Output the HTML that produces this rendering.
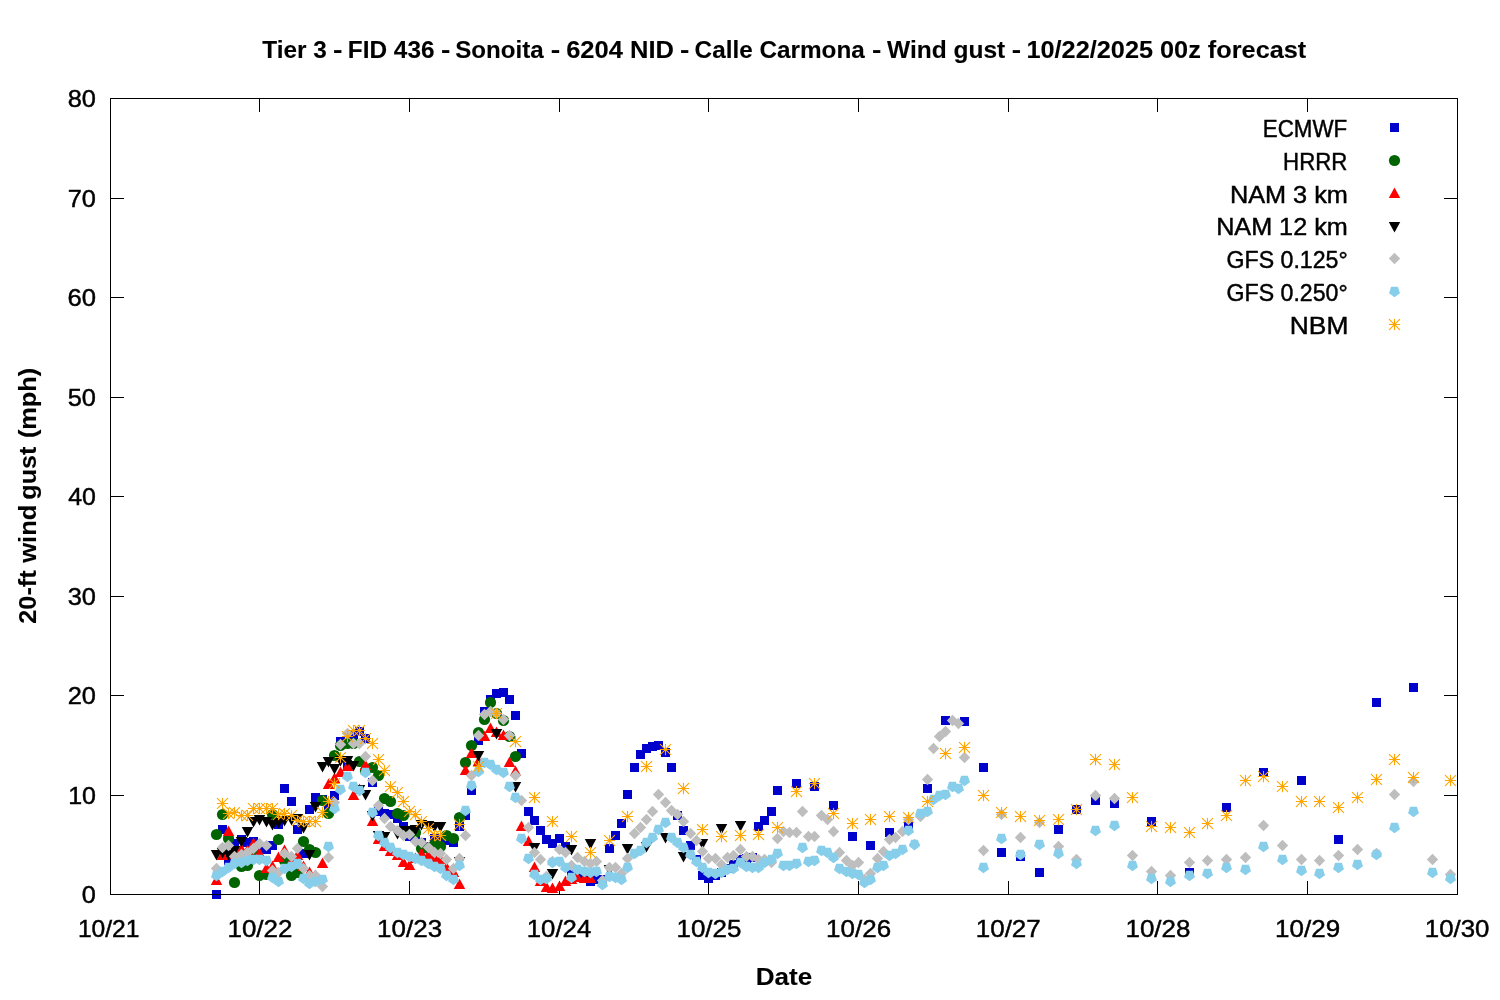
<!DOCTYPE html>
<html lang="en"><head><meta charset="utf-8"><title>Wind gust forecast</title>
<style>
html,body{margin:0;padding:0;background:#fff}
body{width:1500px;height:1000px;overflow:hidden}
svg{display:block}
text{font-family:"Liberation Sans",sans-serif;font-size:24px;fill:#000;stroke:#000;stroke-width:.45px}
.b{font-weight:bold;stroke-width:.1px}
</style></head><body>
<svg width="1500" height="1000" viewBox="0 0 1500 1000">
<rect width="1500" height="1000" fill="#fff"/>
<text class="b" x="755.67" y="985.3" textLength="56.48" lengthAdjust="spacingAndGlyphs">Date</text>
<text x="81.81" y="903.3" textLength="14.1" lengthAdjust="spacingAndGlyphs">0</text>
<text x="68.18" y="804.3" textLength="27.82" lengthAdjust="spacingAndGlyphs">10</text>
<text x="67.74" y="704.3" textLength="28.27" lengthAdjust="spacingAndGlyphs">20</text>
<text x="67.74" y="605.3" textLength="28.27" lengthAdjust="spacingAndGlyphs">30</text>
<text x="68.28" y="505.3" textLength="27.71" lengthAdjust="spacingAndGlyphs">40</text>
<text x="67.74" y="406.3" textLength="28.27" lengthAdjust="spacingAndGlyphs">50</text>
<text x="67.46" y="306.3" textLength="28.56" lengthAdjust="spacingAndGlyphs">60</text>
<text x="67.74" y="207.3" textLength="28.27" lengthAdjust="spacingAndGlyphs">70</text>
<text x="67.74" y="107.3" textLength="28.27" lengthAdjust="spacingAndGlyphs">80</text>
<text x="77.91" y="936.8" textLength="61.58" lengthAdjust="spacingAndGlyphs">10/21</text>
<text x="227.47" y="936.8" textLength="64.94" lengthAdjust="spacingAndGlyphs">10/22</text>
<text x="377.14" y="936.8" textLength="64.94" lengthAdjust="spacingAndGlyphs">10/23</text>
<text x="526.82" y="936.8" textLength="64.38" lengthAdjust="spacingAndGlyphs">10/24</text>
<text x="676.47" y="936.8" textLength="64.94" lengthAdjust="spacingAndGlyphs">10/25</text>
<text x="826.14" y="936.8" textLength="64.94" lengthAdjust="spacingAndGlyphs">10/26</text>
<text x="975.81" y="936.8" textLength="64.94" lengthAdjust="spacingAndGlyphs">10/27</text>
<text x="1125.47" y="936.8" textLength="64.94" lengthAdjust="spacingAndGlyphs">10/28</text>
<text x="1275.14" y="936.8" textLength="64.94" lengthAdjust="spacingAndGlyphs">10/29</text>
<text x="1424.82" y="936.8" textLength="64.66" lengthAdjust="spacingAndGlyphs">10/30</text>
<text x="1262.77" y="136.9" textLength="84.37" lengthAdjust="spacingAndGlyphs">ECMWF</text>
<text x="1283.08" y="169.72" textLength="64.22" lengthAdjust="spacingAndGlyphs">HRRR</text>
<text x="1229.91" y="202.54" textLength="117.99" lengthAdjust="spacingAndGlyphs">NAM 3 km</text>
<text x="1216.16" y="235.36" textLength="131.56" lengthAdjust="spacingAndGlyphs">NAM 12 km</text>
<text x="1226.54" y="268.18" textLength="121.13" lengthAdjust="spacingAndGlyphs">GFS 0.125°</text>
<text x="1226.54" y="301" textLength="121.13" lengthAdjust="spacingAndGlyphs">GFS 0.250°</text>
<text x="1289.83" y="333.82" textLength="58.49" lengthAdjust="spacingAndGlyphs">NBM</text>
<text class="b" y="58.3"><tspan x="262.35" textLength="64.53" lengthAdjust="spacingAndGlyphs">Tier 3</tspan> <tspan x="333.11" textLength="9.48" lengthAdjust="spacingAndGlyphs">-</tspan> <tspan x="347.88" textLength="86.61" lengthAdjust="spacingAndGlyphs">FID 436</tspan> <tspan x="441.12" textLength="9.35" lengthAdjust="spacingAndGlyphs">-</tspan> <tspan x="455.25" textLength="88.5" lengthAdjust="spacingAndGlyphs">Sonoita</tspan> <tspan x="550.71" textLength="9.48" lengthAdjust="spacingAndGlyphs">-</tspan> <tspan x="566.2" textLength="107.74" lengthAdjust="spacingAndGlyphs">6204 NID</tspan> <tspan x="680.12" textLength="9.35" lengthAdjust="spacingAndGlyphs">-</tspan> <tspan x="694.59" textLength="170.22" lengthAdjust="spacingAndGlyphs">Calle Carmona</tspan> <tspan x="872.12" textLength="9.35" lengthAdjust="spacingAndGlyphs">-</tspan> <tspan x="887" textLength="118.27" lengthAdjust="spacingAndGlyphs">Wind gust</tspan> <tspan x="1011.72" textLength="9.35" lengthAdjust="spacingAndGlyphs">-</tspan> <tspan x="1026.42" textLength="279.88" lengthAdjust="spacingAndGlyphs">10/22/2025 00z forecast</tspan></text>
<text class="b" transform="translate(36.3 623) rotate(-90)"><tspan x="-0.79" textLength="53.47" lengthAdjust="spacingAndGlyphs">20-ft</tspan> <tspan x="60.2" textLength="58.3" lengthAdjust="spacingAndGlyphs">wind</tspan> <tspan x="123.35" textLength="53.03" lengthAdjust="spacingAndGlyphs">gust</tspan> <tspan x="184.95" textLength="70.17" lengthAdjust="spacingAndGlyphs">(mph)</tspan></text>
<path d="M259.5 894.5v-13.5M259.5 98.5v13.5M409.5 894.5v-13.5M409.5 98.5v13.5M559.5 894.5v-13.5M559.5 98.5v13.5M708.5 894.5v-13.5M708.5 98.5v13.5M858.5 894.5v-13.5M858.5 98.5v13.5M1008.5 894.5v-13.5M1008.5 98.5v13.5M1157.5 894.5v-13.5M1157.5 98.5v13.5M1307.5 894.5v-13.5M1307.5 98.5v13.5M110.5 795.5h13.5M1457.5 795.5h-13.5M110.5 695.5h13.5M1457.5 695.5h-13.5M110.5 596.5h13.5M1457.5 596.5h-13.5M110.5 496.5h13.5M1457.5 496.5h-13.5M110.5 397.5h13.5M1457.5 397.5h-13.5M110.5 297.5h13.5M1457.5 297.5h-13.5M110.5 198.5h13.5M1457.5 198.5h-13.5" fill="none" stroke="#000" stroke-width="1"/>
<g fill="#0000cd">
<rect x="1390" y="123" width="9" height="9"/>
<rect x="212" y="890" width="9" height="9"/>
<rect x="218" y="825" width="9" height="9"/>
<rect x="224" y="856" width="9" height="9"/>
<rect x="230" y="839" width="9" height="9"/>
<rect x="237" y="835" width="9" height="9"/>
<rect x="243" y="838" width="9" height="9"/>
<rect x="249" y="837" width="9" height="9"/>
<rect x="255" y="845" width="9" height="9"/>
<rect x="262" y="845" width="9" height="9"/>
<rect x="268" y="841" width="9" height="9"/>
<rect x="274" y="820" width="9" height="9"/>
<rect x="280" y="784" width="9" height="9"/>
<rect x="287" y="797" width="9" height="9"/>
<rect x="293" y="825" width="9" height="9"/>
<rect x="299" y="849" width="9" height="9"/>
<rect x="305" y="805" width="9" height="9"/>
<rect x="311" y="793" width="9" height="9"/>
<rect x="318" y="795" width="9" height="9"/>
<rect x="324" y="802" width="9" height="9"/>
<rect x="330" y="791" width="9" height="9"/>
<rect x="336" y="737" width="9" height="9"/>
<rect x="343" y="760" width="9" height="9"/>
<rect x="349" y="730" width="9" height="9"/>
<rect x="355" y="727" width="9" height="9"/>
<rect x="361" y="734" width="9" height="9"/>
<rect x="368" y="778" width="9" height="9"/>
<rect x="374" y="807" width="9" height="9"/>
<rect x="380" y="809" width="9" height="9"/>
<rect x="386" y="810" width="9" height="9"/>
<rect x="393" y="814" width="9" height="9"/>
<rect x="399" y="822" width="9" height="9"/>
<rect x="405" y="832" width="9" height="9"/>
<rect x="411" y="832" width="9" height="9"/>
<rect x="417" y="838" width="9" height="9"/>
<rect x="424" y="842" width="9" height="9"/>
<rect x="430" y="834" width="9" height="9"/>
<rect x="436" y="834" width="9" height="9"/>
<rect x="442" y="836" width="9" height="9"/>
<rect x="449" y="838" width="9" height="9"/>
<rect x="455" y="822" width="9" height="9"/>
<rect x="461" y="811" width="9" height="9"/>
<rect x="467" y="786" width="9" height="9"/>
<rect x="474" y="736" width="9" height="9"/>
<rect x="480" y="707" width="9" height="9"/>
<rect x="486" y="695" width="9" height="9"/>
<rect x="492" y="689" width="9" height="9"/>
<rect x="499" y="688" width="9" height="9"/>
<rect x="505" y="695" width="9" height="9"/>
<rect x="511" y="711" width="9" height="9"/>
<rect x="517" y="749" width="9" height="9"/>
<rect x="524" y="807" width="9" height="9"/>
<rect x="530" y="816" width="9" height="9"/>
<rect x="536" y="826" width="9" height="9"/>
<rect x="542" y="835" width="9" height="9"/>
<rect x="548" y="839" width="9" height="9"/>
<rect x="555" y="834" width="9" height="9"/>
<rect x="561" y="842" width="9" height="9"/>
<rect x="567" y="870" width="9" height="9"/>
<rect x="573" y="873" width="9" height="9"/>
<rect x="580" y="874" width="9" height="9"/>
<rect x="586" y="877" width="9" height="9"/>
<rect x="592" y="875" width="9" height="9"/>
<rect x="598" y="875" width="9" height="9"/>
<rect x="605" y="844" width="9" height="9"/>
<rect x="611" y="831" width="9" height="9"/>
<rect x="617" y="819" width="9" height="9"/>
<rect x="623" y="790" width="9" height="9"/>
<rect x="630" y="763" width="9" height="9"/>
<rect x="636" y="750" width="9" height="9"/>
<rect x="642" y="744" width="9" height="9"/>
<rect x="648" y="742" width="9" height="9"/>
<rect x="654" y="741" width="9" height="9"/>
<rect x="661" y="748" width="9" height="9"/>
<rect x="667" y="763" width="9" height="9"/>
<rect x="673" y="811" width="9" height="9"/>
<rect x="679" y="826" width="9" height="9"/>
<rect x="686" y="841" width="9" height="9"/>
<rect x="692" y="855" width="9" height="9"/>
<rect x="698" y="871" width="9" height="9"/>
<rect x="704" y="874" width="9" height="9"/>
<rect x="711" y="871" width="9" height="9"/>
<rect x="717" y="868" width="9" height="9"/>
<rect x="723" y="864" width="9" height="9"/>
<rect x="729" y="860" width="9" height="9"/>
<rect x="736" y="855" width="9" height="9"/>
<rect x="742" y="854" width="9" height="9"/>
<rect x="748" y="853" width="9" height="9"/>
<rect x="754" y="822" width="9" height="9"/>
<rect x="760" y="816" width="9" height="9"/>
<rect x="767" y="807" width="9" height="9"/>
<rect x="773" y="786" width="9" height="9"/>
<rect x="792" y="779" width="9" height="9"/>
<rect x="810" y="782" width="9" height="9"/>
<rect x="829" y="801" width="9" height="9"/>
<rect x="848" y="832" width="9" height="9"/>
<rect x="866" y="841" width="9" height="9"/>
<rect x="885" y="828" width="9" height="9"/>
<rect x="904" y="822" width="9" height="9"/>
<rect x="923" y="784" width="9" height="9"/>
<rect x="941" y="716" width="9" height="9"/>
<rect x="960" y="717" width="9" height="9"/>
<rect x="979" y="763" width="9" height="9"/>
<rect x="997" y="848" width="9" height="9"/>
<rect x="1016" y="852" width="9" height="9"/>
<rect x="1035" y="868" width="9" height="9"/>
<rect x="1054" y="825" width="9" height="9"/>
<rect x="1072" y="805" width="9" height="9"/>
<rect x="1091" y="796" width="9" height="9"/>
<rect x="1110" y="799" width="9" height="9"/>
<rect x="1147" y="817" width="9" height="9"/>
<rect x="1185" y="868" width="9" height="9"/>
<rect x="1222" y="803" width="9" height="9"/>
<rect x="1259" y="768" width="9" height="9"/>
<rect x="1297" y="776" width="9" height="9"/>
<rect x="1334" y="835" width="9" height="9"/>
<rect x="1372" y="698" width="9" height="9"/>
<rect x="1409" y="683" width="9" height="9"/>
</g>
<g fill="#006400">
<circle cx="1394.5" cy="160.5" r="5.6"/>
<circle cx="216.5" cy="834.5" r="5.6"/>
<circle cx="222.5" cy="814.5" r="5.6"/>
<circle cx="228.5" cy="838.5" r="5.6"/>
<circle cx="234.5" cy="882.5" r="5.6"/>
<circle cx="241.5" cy="866.5" r="5.6"/>
<circle cx="247.5" cy="865.5" r="5.6"/>
<circle cx="253.5" cy="852.5" r="5.6"/>
<circle cx="259.5" cy="875.5" r="5.6"/>
<circle cx="266.5" cy="874.5" r="5.6"/>
<circle cx="272.5" cy="814.5" r="5.6"/>
<circle cx="278.5" cy="839.5" r="5.6"/>
<circle cx="284.5" cy="860.5" r="5.6"/>
<circle cx="291.5" cy="875.5" r="5.6"/>
<circle cx="297.5" cy="872.5" r="5.6"/>
<circle cx="303.5" cy="841.5" r="5.6"/>
<circle cx="309.5" cy="849.5" r="5.6"/>
<circle cx="315.5" cy="852.5" r="5.6"/>
<circle cx="322.5" cy="800.5" r="5.6"/>
<circle cx="328.5" cy="813.5" r="5.6"/>
<circle cx="334.5" cy="755.5" r="5.6"/>
<circle cx="340.5" cy="745.5" r="5.6"/>
<circle cx="347.5" cy="743.5" r="5.6"/>
<circle cx="353.5" cy="743.5" r="5.6"/>
<circle cx="359.5" cy="761.5" r="5.6"/>
<circle cx="365.5" cy="770.5" r="5.6"/>
<circle cx="372.5" cy="767.5" r="5.6"/>
<circle cx="378.5" cy="775.5" r="5.6"/>
<circle cx="384.5" cy="798.5" r="5.6"/>
<circle cx="390.5" cy="801.5" r="5.6"/>
<circle cx="397.5" cy="813.5" r="5.6"/>
<circle cx="403.5" cy="815.5" r="5.6"/>
<circle cx="409.5" cy="832.5" r="5.6"/>
<circle cx="415.5" cy="832.5" r="5.6"/>
<circle cx="421.5" cy="848.5" r="5.6"/>
<circle cx="428.5" cy="848.5" r="5.6"/>
<circle cx="434.5" cy="844.5" r="5.6"/>
<circle cx="440.5" cy="846.5" r="5.6"/>
<circle cx="446.5" cy="835.5" r="5.6"/>
<circle cx="453.5" cy="838.5" r="5.6"/>
<circle cx="459.5" cy="817.5" r="5.6"/>
<circle cx="465.5" cy="762.5" r="5.6"/>
<circle cx="471.5" cy="745.5" r="5.6"/>
<circle cx="478.5" cy="732.5" r="5.6"/>
<circle cx="484.5" cy="719.5" r="5.6"/>
<circle cx="490.5" cy="702.5" r="5.6"/>
<circle cx="496.5" cy="713.5" r="5.6"/>
<circle cx="503.5" cy="720.5" r="5.6"/>
<circle cx="509.5" cy="736.5" r="5.6"/>
<circle cx="515.5" cy="756.5" r="5.6"/>
</g>
<g fill="#ff0000">
<path d="M1388.75 198L1394.5 187.4L1400.25 198z"/>
<path d="M210.75 885L216.5 874.4L222.25 885z"/>
<path d="M216.75 860L222.5 849.4L228.25 860z"/>
<path d="M222.75 836L228.5 825.4L234.25 836z"/>
<path d="M228.75 859L234.5 848.4L240.25 859z"/>
<path d="M235.75 854L241.5 843.4L247.25 854z"/>
<path d="M241.75 855L247.5 844.4L253.25 855z"/>
<path d="M247.75 848L253.5 837.4L259.25 848z"/>
<path d="M253.75 858L259.5 847.4L265.25 858z"/>
<path d="M260.75 873L266.5 862.4L272.25 873z"/>
<path d="M266.75 871L272.5 860.4L278.25 871z"/>
<path d="M272.75 862L278.5 851.4L284.25 862z"/>
<path d="M278.75 855L284.5 844.4L290.25 855z"/>
<path d="M285.75 866L291.5 855.4L297.25 866z"/>
<path d="M291.75 860L297.5 849.4L303.25 860z"/>
<path d="M297.75 871L303.5 860.4L309.25 871z"/>
<path d="M303.75 877L309.5 866.4L315.25 877z"/>
<path d="M309.75 880L315.5 869.4L321.25 880z"/>
<path d="M316.75 868L322.5 857.4L328.25 868z"/>
<path d="M322.75 789L328.5 778.4L334.25 789z"/>
<path d="M328.75 783L334.5 772.4L340.25 783z"/>
<path d="M334.75 777L340.5 766.4L346.25 777z"/>
<path d="M341.75 771L347.5 760.4L353.25 771z"/>
<path d="M347.75 800L353.5 789.4L359.25 800z"/>
<path d="M353.75 794L359.5 783.4L365.25 794z"/>
<path d="M359.75 770L365.5 759.4L371.25 770z"/>
<path d="M366.75 826L372.5 815.4L378.25 826z"/>
<path d="M372.75 844L378.5 833.4L384.25 844z"/>
<path d="M378.75 851L384.5 840.4L390.25 851z"/>
<path d="M384.75 856L390.5 845.4L396.25 856z"/>
<path d="M391.75 860L397.5 849.4L403.25 860z"/>
<path d="M397.75 867L403.5 856.4L409.25 867z"/>
<path d="M403.75 870L409.5 859.4L415.25 870z"/>
<path d="M409.75 863L415.5 852.4L421.25 863z"/>
<path d="M415.75 858L421.5 847.4L427.25 858z"/>
<path d="M422.75 860L428.5 849.4L434.25 860z"/>
<path d="M428.75 862L434.5 851.4L440.25 862z"/>
<path d="M434.75 864L440.5 853.4L446.25 864z"/>
<path d="M440.75 872L446.5 861.4L452.25 872z"/>
<path d="M447.75 877L453.5 866.4L459.25 877z"/>
<path d="M453.75 889L459.5 878.4L465.25 889z"/>
<path d="M459.75 775L465.5 764.4L471.25 775z"/>
<path d="M465.75 758L471.5 747.4L477.25 758z"/>
<path d="M472.75 766L478.5 755.4L484.25 766z"/>
<path d="M478.75 741L484.5 730.4L490.25 741z"/>
<path d="M484.75 733L490.5 722.4L496.25 733z"/>
<path d="M490.75 737L496.5 726.4L502.25 737z"/>
<path d="M497.75 740L503.5 729.4L509.25 740z"/>
<path d="M503.75 767L509.5 756.4L515.25 767z"/>
<path d="M509.75 776L515.5 765.4L521.25 776z"/>
<path d="M515.75 831L521.5 820.4L527.25 831z"/>
<path d="M522.75 846L528.5 835.4L534.25 846z"/>
<path d="M528.75 872L534.5 861.4L540.25 872z"/>
<path d="M534.75 886L540.5 875.4L546.25 886z"/>
<path d="M540.75 892L546.5 881.4L552.25 892z"/>
<path d="M546.75 893L552.5 882.4L558.25 893z"/>
<path d="M553.75 891L559.5 880.4L565.25 891z"/>
<path d="M559.75 886L565.5 875.4L571.25 886z"/>
<path d="M565.75 884L571.5 873.4L577.25 884z"/>
<path d="M571.75 882L577.5 871.4L583.25 882z"/>
<path d="M578.75 883L584.5 872.4L590.25 883z"/>
<path d="M584.75 883L590.5 872.4L596.25 883z"/>
</g>
<g fill="#000000">
<path d="M1388.75 222L1394.5 232.6L1400.25 222z"/>
<path d="M210.75 850L216.5 860.6L222.25 850z"/>
<path d="M216.75 848L222.5 858.6L228.25 848z"/>
<path d="M222.75 850L228.5 860.6L234.25 850z"/>
<path d="M228.75 846L234.5 856.6L240.25 846z"/>
<path d="M235.75 837L241.5 847.6L247.25 837z"/>
<path d="M241.75 827L247.5 837.6L253.25 827z"/>
<path d="M247.75 817L253.5 827.6L259.25 817z"/>
<path d="M253.75 815L259.5 825.6L265.25 815z"/>
<path d="M260.75 817L266.5 827.6L272.25 817z"/>
<path d="M266.75 820L272.5 830.6L278.25 820z"/>
<path d="M272.75 818L278.5 828.6L284.25 818z"/>
<path d="M278.75 816L284.5 826.6L290.25 816z"/>
<path d="M285.75 815L291.5 825.6L297.25 815z"/>
<path d="M291.75 814L297.5 824.6L303.25 814z"/>
<path d="M297.75 823L303.5 833.6L309.25 823z"/>
<path d="M303.75 850L309.5 860.6L315.25 850z"/>
<path d="M309.75 802L315.5 812.6L321.25 802z"/>
<path d="M316.75 762L322.5 772.6L328.25 762z"/>
<path d="M322.75 757L328.5 767.6L334.25 757z"/>
<path d="M328.75 764L334.5 774.6L340.25 764z"/>
<path d="M334.75 756L340.5 766.6L346.25 756z"/>
<path d="M341.75 756L347.5 766.6L353.25 756z"/>
<path d="M347.75 761L353.5 771.6L359.25 761z"/>
<path d="M353.75 785L359.5 795.6L365.25 785z"/>
<path d="M359.75 790L365.5 800.6L371.25 790z"/>
<path d="M366.75 811L372.5 821.6L378.25 811z"/>
<path d="M372.75 831L378.5 841.6L384.25 831z"/>
<path d="M378.75 832L384.5 842.6L390.25 832z"/>
<path d="M391.75 829L397.5 839.6L403.25 829z"/>
<path d="M397.75 826L403.5 836.6L409.25 826z"/>
<path d="M403.75 826L409.5 836.6L415.25 826z"/>
<path d="M409.75 825L415.5 835.6L421.25 825z"/>
<path d="M415.75 820L421.5 830.6L427.25 820z"/>
<path d="M422.75 821L428.5 831.6L434.25 821z"/>
<path d="M428.75 822L434.5 832.6L440.25 822z"/>
<path d="M434.75 822L440.5 832.6L446.25 822z"/>
<path d="M453.75 857L459.5 867.6L465.25 857z"/>
<path d="M472.75 751L478.5 761.6L484.25 751z"/>
<path d="M490.75 729L496.5 739.6L502.25 729z"/>
<path d="M509.75 782L515.5 792.6L521.25 782z"/>
<path d="M528.75 843L534.5 853.6L540.25 843z"/>
<path d="M546.75 869L552.5 879.6L558.25 869z"/>
<path d="M565.75 845L571.5 855.6L577.25 845z"/>
<path d="M584.75 839L590.5 849.6L596.25 839z"/>
<path d="M603.75 865L609.5 875.6L615.25 865z"/>
<path d="M621.75 844L627.5 854.6L633.25 844z"/>
<path d="M640.75 842L646.5 852.6L652.25 842z"/>
<path d="M659.75 833L665.5 843.6L671.25 833z"/>
<path d="M677.75 852L683.5 862.6L689.25 852z"/>
<path d="M696.75 839L702.5 849.6L708.25 839z"/>
<path d="M715.75 824L721.5 834.6L727.25 824z"/>
<path d="M734.75 821L740.5 831.6L746.25 821z"/>
</g>
<g fill="#bebebe">
<path d="M1388.8 258.5L1394.5 252.8L1400.2 258.5L1394.5 264.2z"/>
<path d="M210.8 868.5L216.5 862.8L222.2 868.5L216.5 874.2z"/>
<path d="M216.8 847.5L222.5 841.8L228.2 847.5L222.5 853.2z"/>
<path d="M222.8 845.5L228.5 839.8L234.2 845.5L228.5 851.2z"/>
<path d="M228.8 856.5L234.5 850.8L240.2 856.5L234.5 862.2z"/>
<path d="M235.8 854.5L241.5 848.8L247.2 854.5L241.5 860.2z"/>
<path d="M241.8 852.5L247.5 846.8L253.2 852.5L247.5 858.2z"/>
<path d="M247.8 848.5L253.5 842.8L259.2 848.5L253.5 854.2z"/>
<path d="M253.8 843.5L259.5 837.8L265.2 843.5L259.5 849.2z"/>
<path d="M260.8 845.5L266.5 839.8L272.2 845.5L266.5 851.2z"/>
<path d="M266.8 870.5L272.5 864.8L278.2 870.5L272.5 876.2z"/>
<path d="M272.8 872.5L278.5 866.8L284.2 872.5L278.5 878.2z"/>
<path d="M278.8 853.5L284.5 847.8L290.2 853.5L284.5 859.2z"/>
<path d="M285.8 856.5L291.5 850.8L297.2 856.5L291.5 862.2z"/>
<path d="M291.8 848.5L297.5 842.8L303.2 848.5L297.5 854.2z"/>
<path d="M297.8 868.5L303.5 862.8L309.2 868.5L303.5 874.2z"/>
<path d="M303.8 875.5L309.5 869.8L315.2 875.5L309.5 881.2z"/>
<path d="M309.8 875.5L315.5 869.8L321.2 875.5L315.5 881.2z"/>
<path d="M316.8 886.5L322.5 880.8L328.2 886.5L322.5 892.2z"/>
<path d="M322.8 857.5L328.5 851.8L334.2 857.5L328.5 863.2z"/>
<path d="M328.8 802.5L334.5 796.8L340.2 802.5L334.5 808.2z"/>
<path d="M334.8 744.5L340.5 738.8L346.2 744.5L340.5 750.2z"/>
<path d="M341.8 733.5L347.5 727.8L353.2 733.5L347.5 739.2z"/>
<path d="M347.8 743.5L353.5 737.8L359.2 743.5L353.5 749.2z"/>
<path d="M353.8 743.5L359.5 737.8L365.2 743.5L359.5 749.2z"/>
<path d="M359.8 756.5L365.5 750.8L371.2 756.5L365.5 762.2z"/>
<path d="M366.8 780.5L372.5 774.8L378.2 780.5L372.5 786.2z"/>
<path d="M372.8 805.5L378.5 799.8L384.2 805.5L378.5 811.2z"/>
<path d="M378.8 818.5L384.5 812.8L390.2 818.5L384.5 824.2z"/>
<path d="M384.8 826.5L390.5 820.8L396.2 826.5L390.5 832.2z"/>
<path d="M391.8 830.5L397.5 824.8L403.2 830.5L397.5 836.2z"/>
<path d="M397.8 835.5L403.5 829.8L409.2 835.5L403.5 841.2z"/>
<path d="M403.8 834.5L409.5 828.8L415.2 834.5L409.5 840.2z"/>
<path d="M409.8 841.5L415.5 835.8L421.2 841.5L415.5 847.2z"/>
<path d="M415.8 842.5L421.5 836.8L427.2 842.5L421.5 848.2z"/>
<path d="M422.8 847.5L428.5 841.8L434.2 847.5L428.5 853.2z"/>
<path d="M428.8 852.5L434.5 846.8L440.2 852.5L434.5 858.2z"/>
<path d="M434.8 853.5L440.5 847.8L446.2 853.5L440.5 859.2z"/>
<path d="M440.8 859.5L446.5 853.8L452.2 859.5L446.5 865.2z"/>
<path d="M447.8 868.5L453.5 862.8L459.2 868.5L453.5 874.2z"/>
<path d="M453.8 858.5L459.5 852.8L465.2 858.5L459.5 864.2z"/>
<path d="M459.8 835.5L465.5 829.8L471.2 835.5L465.5 841.2z"/>
<path d="M465.8 775.5L471.5 769.8L477.2 775.5L471.5 781.2z"/>
<path d="M472.8 735.5L478.5 729.8L484.2 735.5L478.5 741.2z"/>
<path d="M478.8 714.5L484.5 708.8L490.2 714.5L484.5 720.2z"/>
<path d="M484.8 711.5L490.5 705.8L496.2 711.5L490.5 717.2z"/>
<path d="M490.8 713.5L496.5 707.8L502.2 713.5L496.5 719.2z"/>
<path d="M497.8 719.5L503.5 713.8L509.2 719.5L503.5 725.2z"/>
<path d="M503.8 735.5L509.5 729.8L515.2 735.5L509.5 741.2z"/>
<path d="M509.8 775.5L515.5 769.8L521.2 775.5L515.5 781.2z"/>
<path d="M515.8 800.5L521.5 794.8L527.2 800.5L521.5 806.2z"/>
<path d="M522.8 827.5L528.5 821.8L534.2 827.5L528.5 833.2z"/>
<path d="M528.8 852.5L534.5 846.8L540.2 852.5L534.5 858.2z"/>
<path d="M534.8 859.5L540.5 853.8L546.2 859.5L540.5 865.2z"/>
<path d="M540.8 876.5L546.5 870.8L552.2 876.5L546.5 882.2z"/>
<path d="M546.8 861.5L552.5 855.8L558.2 861.5L552.5 867.2z"/>
<path d="M553.8 849.5L559.5 843.8L565.2 849.5L559.5 855.2z"/>
<path d="M559.8 852.5L565.5 846.8L571.2 852.5L565.5 858.2z"/>
<path d="M565.8 865.5L571.5 859.8L577.2 865.5L571.5 871.2z"/>
<path d="M571.8 857.5L577.5 851.8L583.2 857.5L577.5 863.2z"/>
<path d="M578.8 861.5L584.5 855.8L590.2 861.5L584.5 867.2z"/>
<path d="M584.8 863.5L590.5 857.8L596.2 863.5L590.5 869.2z"/>
<path d="M590.8 861.5L596.5 855.8L602.2 861.5L596.5 867.2z"/>
<path d="M596.8 880.5L602.5 874.8L608.2 880.5L602.5 886.2z"/>
<path d="M603.8 867.5L609.5 861.8L615.2 867.5L609.5 873.2z"/>
<path d="M609.8 867.5L615.5 861.8L621.2 867.5L615.5 873.2z"/>
<path d="M615.8 873.5L621.5 867.8L627.2 873.5L621.5 879.2z"/>
<path d="M621.8 858.5L627.5 852.8L633.2 858.5L627.5 864.2z"/>
<path d="M628.8 833.5L634.5 827.8L640.2 833.5L634.5 839.2z"/>
<path d="M634.8 827.5L640.5 821.8L646.2 827.5L640.5 833.2z"/>
<path d="M640.8 819.5L646.5 813.8L652.2 819.5L646.5 825.2z"/>
<path d="M646.8 811.5L652.5 805.8L658.2 811.5L652.5 817.2z"/>
<path d="M652.8 794.5L658.5 788.8L664.2 794.5L658.5 800.2z"/>
<path d="M659.8 802.5L665.5 796.8L671.2 802.5L665.5 808.2z"/>
<path d="M665.8 810.5L671.5 804.8L677.2 810.5L671.5 816.2z"/>
<path d="M671.8 814.5L677.5 808.8L683.2 814.5L677.5 820.2z"/>
<path d="M677.8 821.5L683.5 815.8L689.2 821.5L683.5 827.2z"/>
<path d="M684.8 833.5L690.5 827.8L696.2 833.5L690.5 839.2z"/>
<path d="M690.8 840.5L696.5 834.8L702.2 840.5L696.5 846.2z"/>
<path d="M696.8 851.5L702.5 845.8L708.2 851.5L702.5 857.2z"/>
<path d="M702.8 858.5L708.5 852.8L714.2 858.5L708.5 864.2z"/>
<path d="M709.8 858.5L715.5 852.8L721.2 858.5L715.5 864.2z"/>
<path d="M715.8 864.5L721.5 858.8L727.2 864.5L721.5 870.2z"/>
<path d="M721.8 857.5L727.5 851.8L733.2 857.5L727.5 863.2z"/>
<path d="M727.8 855.5L733.5 849.8L739.2 855.5L733.5 861.2z"/>
<path d="M734.8 849.5L740.5 843.8L746.2 849.5L740.5 855.2z"/>
<path d="M740.8 856.5L746.5 850.8L752.2 856.5L746.5 862.2z"/>
<path d="M746.8 856.5L752.5 850.8L758.2 856.5L752.5 862.2z"/>
<path d="M752.8 859.5L758.5 853.8L764.2 859.5L758.5 865.2z"/>
<path d="M758.8 859.5L764.5 853.8L770.2 859.5L764.5 865.2z"/>
<path d="M765.8 862.5L771.5 856.8L777.2 862.5L771.5 868.2z"/>
<path d="M771.8 838.5L777.5 832.8L783.2 838.5L777.5 844.2z"/>
<path d="M777.8 831.5L783.5 825.8L789.2 831.5L783.5 837.2z"/>
<path d="M783.8 832.5L789.5 826.8L795.2 832.5L789.5 838.2z"/>
<path d="M790.8 832.5L796.5 826.8L802.2 832.5L796.5 838.2z"/>
<path d="M796.8 811.5L802.5 805.8L808.2 811.5L802.5 817.2z"/>
<path d="M802.8 836.5L808.5 830.8L814.2 836.5L808.5 842.2z"/>
<path d="M808.8 836.5L814.5 830.8L820.2 836.5L814.5 842.2z"/>
<path d="M815.8 815.5L821.5 809.8L827.2 815.5L821.5 821.2z"/>
<path d="M821.8 819.5L827.5 813.8L833.2 819.5L827.5 825.2z"/>
<path d="M827.8 831.5L833.5 825.8L839.2 831.5L833.5 837.2z"/>
<path d="M833.8 852.5L839.5 846.8L845.2 852.5L839.5 858.2z"/>
<path d="M840.8 860.5L846.5 854.8L852.2 860.5L846.5 866.2z"/>
<path d="M846.8 865.5L852.5 859.8L858.2 865.5L852.5 871.2z"/>
<path d="M852.8 862.5L858.5 856.8L864.2 862.5L858.5 868.2z"/>
<path d="M858.8 879.5L864.5 873.8L870.2 879.5L864.5 885.2z"/>
<path d="M864.8 873.5L870.5 867.8L876.2 873.5L870.5 879.2z"/>
<path d="M871.8 858.5L877.5 852.8L883.2 858.5L877.5 864.2z"/>
<path d="M877.8 851.5L883.5 845.8L889.2 851.5L883.5 857.2z"/>
<path d="M883.8 839.5L889.5 833.8L895.2 839.5L889.5 845.2z"/>
<path d="M889.8 837.5L895.5 831.8L901.2 837.5L895.5 843.2z"/>
<path d="M896.8 831.5L902.5 825.8L908.2 831.5L902.5 837.2z"/>
<path d="M902.8 819.5L908.5 813.8L914.2 819.5L908.5 825.2z"/>
<path d="M908.8 844.5L914.5 838.8L920.2 844.5L914.5 850.2z"/>
<path d="M914.8 816.5L920.5 810.8L926.2 816.5L920.5 822.2z"/>
<path d="M921.8 779.5L927.5 773.8L933.2 779.5L927.5 785.2z"/>
<path d="M927.8 748.5L933.5 742.8L939.2 748.5L933.5 754.2z"/>
<path d="M933.8 736.5L939.5 730.8L945.2 736.5L939.5 742.2z"/>
<path d="M939.8 731.5L945.5 725.8L951.2 731.5L945.5 737.2z"/>
<path d="M946.8 720.5L952.5 714.8L958.2 720.5L952.5 726.2z"/>
<path d="M952.8 723.5L958.5 717.8L964.2 723.5L958.5 729.2z"/>
<path d="M958.8 757.5L964.5 751.8L970.2 757.5L964.5 763.2z"/>
<path d="M977.8 850.5L983.5 844.8L989.2 850.5L983.5 856.2z"/>
<path d="M995.8 814.5L1001.5 808.8L1007.2 814.5L1001.5 820.2z"/>
<path d="M1014.8 837.5L1020.5 831.8L1026.2 837.5L1020.5 843.2z"/>
<path d="M1033.8 822.5L1039.5 816.8L1045.2 822.5L1039.5 828.2z"/>
<path d="M1052.8 846.5L1058.5 840.8L1064.2 846.5L1058.5 852.2z"/>
<path d="M1070.8 859.5L1076.5 853.8L1082.2 859.5L1076.5 865.2z"/>
<path d="M1089.8 795.5L1095.5 789.8L1101.2 795.5L1095.5 801.2z"/>
<path d="M1108.8 798.5L1114.5 792.8L1120.2 798.5L1114.5 804.2z"/>
<path d="M1126.8 855.5L1132.5 849.8L1138.2 855.5L1132.5 861.2z"/>
<path d="M1145.8 871.5L1151.5 865.8L1157.2 871.5L1151.5 877.2z"/>
<path d="M1164.8 875.5L1170.5 869.8L1176.2 875.5L1170.5 881.2z"/>
<path d="M1183.8 862.5L1189.5 856.8L1195.2 862.5L1189.5 868.2z"/>
<path d="M1201.8 860.5L1207.5 854.8L1213.2 860.5L1207.5 866.2z"/>
<path d="M1220.8 859.5L1226.5 853.8L1232.2 859.5L1226.5 865.2z"/>
<path d="M1239.8 857.5L1245.5 851.8L1251.2 857.5L1245.5 863.2z"/>
<path d="M1257.8 825.5L1263.5 819.8L1269.2 825.5L1263.5 831.2z"/>
<path d="M1276.8 845.5L1282.5 839.8L1288.2 845.5L1282.5 851.2z"/>
<path d="M1295.8 859.5L1301.5 853.8L1307.2 859.5L1301.5 865.2z"/>
<path d="M1313.8 860.5L1319.5 854.8L1325.2 860.5L1319.5 866.2z"/>
<path d="M1332.8 855.5L1338.5 849.8L1344.2 855.5L1338.5 861.2z"/>
<path d="M1351.8 849.5L1357.5 843.8L1363.2 849.5L1357.5 855.2z"/>
<path d="M1370.8 853.5L1376.5 847.8L1382.2 853.5L1376.5 859.2z"/>
<path d="M1388.8 794.5L1394.5 788.8L1400.2 794.5L1394.5 800.2z"/>
<path d="M1407.8 781.5L1413.5 775.8L1419.2 781.5L1413.5 787.2z"/>
<path d="M1426.8 859.5L1432.5 853.8L1438.2 859.5L1432.5 865.2z"/>
<path d="M1444.8 874.5L1450.5 868.8L1456.2 874.5L1450.5 880.2z"/>
</g>
<g fill="#87ceeb">
<path d="M1394.5 297.25L1389.03 293.28L1391.12 286.85L1397.88 286.85L1399.97 293.28z"/>
<path d="M216.5 881.25L211.03 877.28L213.12 870.85L219.88 870.85L221.97 877.28z"/>
<path d="M222.5 877.25L217.03 873.28L219.12 866.85L225.88 866.85L227.97 873.28z"/>
<path d="M228.5 873.25L223.03 869.28L225.12 862.85L231.88 862.85L233.97 869.28z"/>
<path d="M234.5 869.25L229.03 865.28L231.12 858.85L237.88 858.85L239.97 865.28z"/>
<path d="M241.5 868.25L236.03 864.28L238.12 857.85L244.88 857.85L246.97 864.28z"/>
<path d="M247.5 866.25L242.03 862.28L244.12 855.85L250.88 855.85L252.97 862.28z"/>
<path d="M253.5 865.25L248.03 861.28L250.12 854.85L256.88 854.85L258.97 861.28z"/>
<path d="M259.5 865.25L254.03 861.28L256.12 854.85L262.88 854.85L264.97 861.28z"/>
<path d="M266.5 866.25L261.03 862.28L263.12 855.85L269.88 855.85L271.97 862.28z"/>
<path d="M272.5 883.25L267.03 879.28L269.12 872.85L275.88 872.85L277.97 879.28z"/>
<path d="M278.5 887.25L273.03 883.28L275.12 876.85L281.88 876.85L283.97 883.28z"/>
<path d="M284.5 874.25L279.03 870.28L281.12 863.85L287.88 863.85L289.97 870.28z"/>
<path d="M291.5 872.25L286.03 868.28L288.12 861.85L294.88 861.85L296.97 868.28z"/>
<path d="M297.5 869.25L292.03 865.28L294.12 858.85L300.88 858.85L302.97 865.28z"/>
<path d="M303.5 884.25L298.03 880.28L300.12 873.85L306.88 873.85L308.97 880.28z"/>
<path d="M309.5 889.25L304.03 885.28L306.12 878.85L312.88 878.85L314.97 885.28z"/>
<path d="M315.5 887.25L310.03 883.28L312.12 876.85L318.88 876.85L320.97 883.28z"/>
<path d="M322.5 885.25L317.03 881.28L319.12 874.85L325.88 874.85L327.97 881.28z"/>
<path d="M328.5 852.25L323.03 848.28L325.12 841.85L331.88 841.85L333.97 848.28z"/>
<path d="M334.5 814.25L329.03 810.28L331.12 803.85L337.88 803.85L339.97 810.28z"/>
<path d="M340.5 795.25L335.03 791.28L337.12 784.85L343.88 784.85L345.97 791.28z"/>
<path d="M347.5 782.25L342.03 778.28L344.12 771.85L350.88 771.85L352.97 778.28z"/>
<path d="M353.5 792.25L348.03 788.28L350.12 781.85L356.88 781.85L358.97 788.28z"/>
<path d="M359.5 796.25L354.03 792.28L356.12 785.85L362.88 785.85L364.97 792.28z"/>
<path d="M365.5 778.25L360.03 774.28L362.12 767.85L368.88 767.85L370.97 774.28z"/>
<path d="M372.5 818.25L367.03 814.28L369.12 807.85L375.88 807.85L377.97 814.28z"/>
<path d="M378.5 841.25L373.03 837.28L375.12 830.85L381.88 830.85L383.97 837.28z"/>
<path d="M384.5 848.25L379.03 844.28L381.12 837.85L387.88 837.85L389.97 844.28z"/>
<path d="M390.5 853.25L385.03 849.28L387.12 842.85L393.88 842.85L395.97 849.28z"/>
<path d="M397.5 858.25L392.03 854.28L394.12 847.85L400.88 847.85L402.97 854.28z"/>
<path d="M403.5 860.25L398.03 856.28L400.12 849.85L406.88 849.85L408.97 856.28z"/>
<path d="M409.5 862.25L404.03 858.28L406.12 851.85L412.88 851.85L414.97 858.28z"/>
<path d="M415.5 864.25L410.03 860.28L412.12 853.85L418.88 853.85L420.97 860.28z"/>
<path d="M421.5 866.25L416.03 862.28L418.12 855.85L424.88 855.85L426.97 862.28z"/>
<path d="M428.5 869.25L423.03 865.28L425.12 858.85L431.88 858.85L433.97 865.28z"/>
<path d="M434.5 872.25L429.03 868.28L431.12 861.85L437.88 861.85L439.97 868.28z"/>
<path d="M440.5 874.25L435.03 870.28L437.12 863.85L443.88 863.85L445.97 870.28z"/>
<path d="M446.5 881.25L441.03 877.28L443.12 870.85L449.88 870.85L451.97 877.28z"/>
<path d="M453.5 885.25L448.03 881.28L450.12 874.85L456.88 874.85L458.97 881.28z"/>
<path d="M459.5 871.25L454.03 867.28L456.12 860.85L462.88 860.85L464.97 867.28z"/>
<path d="M465.5 816.25L460.03 812.28L462.12 805.85L468.88 805.85L470.97 812.28z"/>
<path d="M471.5 791.25L466.03 787.28L468.12 780.85L474.88 780.85L476.97 787.28z"/>
<path d="M478.5 777.25L473.03 773.28L475.12 766.85L481.88 766.85L483.97 773.28z"/>
<path d="M484.5 768.25L479.03 764.28L481.12 757.85L487.88 757.85L489.97 764.28z"/>
<path d="M490.5 770.25L485.03 766.28L487.12 759.85L493.88 759.85L495.97 766.28z"/>
<path d="M496.5 775.25L491.03 771.28L493.12 764.85L499.88 764.85L501.97 771.28z"/>
<path d="M503.5 778.25L498.03 774.28L500.12 767.85L506.88 767.85L508.97 774.28z"/>
<path d="M509.5 792.25L504.03 788.28L506.12 781.85L512.88 781.85L514.97 788.28z"/>
<path d="M515.5 803.25L510.03 799.28L512.12 792.85L518.88 792.85L520.97 799.28z"/>
<path d="M521.5 844.25L516.03 840.28L518.12 833.85L524.88 833.85L526.97 840.28z"/>
<path d="M528.5 864.25L523.03 860.28L525.12 853.85L531.88 853.85L533.97 860.28z"/>
<path d="M534.5 880.25L529.03 876.28L531.12 869.85L537.88 869.85L539.97 876.28z"/>
<path d="M540.5 885.25L535.03 881.28L537.12 874.85L543.88 874.85L545.97 881.28z"/>
<path d="M546.5 884.25L541.03 880.28L543.12 873.85L549.88 873.85L551.97 880.28z"/>
<path d="M552.5 868.25L547.03 864.28L549.12 857.85L555.88 857.85L557.97 864.28z"/>
<path d="M559.5 867.25L554.03 863.28L556.12 856.85L562.88 856.85L564.97 863.28z"/>
<path d="M565.5 873.25L560.03 869.28L562.12 862.85L568.88 862.85L570.97 869.28z"/>
<path d="M571.5 883.25L566.03 879.28L568.12 872.85L574.88 872.85L576.97 879.28z"/>
<path d="M577.5 875.25L572.03 871.28L574.12 864.85L580.88 864.85L582.97 871.28z"/>
<path d="M584.5 877.25L579.03 873.28L581.12 866.85L587.88 866.85L589.97 873.28z"/>
<path d="M590.5 878.25L585.03 874.28L587.12 867.85L593.88 867.85L595.97 874.28z"/>
<path d="M596.5 877.25L591.03 873.28L593.12 866.85L599.88 866.85L601.97 873.28z"/>
<path d="M602.5 890.25L597.03 886.28L599.12 879.85L605.88 879.85L607.97 886.28z"/>
<path d="M609.5 882.25L604.03 878.28L606.12 871.85L612.88 871.85L614.97 878.28z"/>
<path d="M615.5 883.25L610.03 879.28L612.12 872.85L618.88 872.85L620.97 879.28z"/>
<path d="M621.5 885.25L616.03 881.28L618.12 874.85L624.88 874.85L626.97 881.28z"/>
<path d="M627.5 873.25L622.03 869.28L624.12 862.85L630.88 862.85L632.97 869.28z"/>
<path d="M634.5 859.25L629.03 855.28L631.12 848.85L637.88 848.85L639.97 855.28z"/>
<path d="M640.5 856.25L635.03 852.28L637.12 845.85L643.88 845.85L645.97 852.28z"/>
<path d="M646.5 848.25L641.03 844.28L643.12 837.85L649.88 837.85L651.97 844.28z"/>
<path d="M652.5 843.25L647.03 839.28L649.12 832.85L655.88 832.85L657.97 839.28z"/>
<path d="M658.5 835.25L653.03 831.28L655.12 824.85L661.88 824.85L663.97 831.28z"/>
<path d="M665.5 828.25L660.03 824.28L662.12 817.85L668.88 817.85L670.97 824.28z"/>
<path d="M671.5 843.25L666.03 839.28L668.12 832.85L674.88 832.85L676.97 839.28z"/>
<path d="M677.5 848.25L672.03 844.28L674.12 837.85L680.88 837.85L682.97 844.28z"/>
<path d="M683.5 853.25L678.03 849.28L680.12 842.85L686.88 842.85L688.97 849.28z"/>
<path d="M690.5 860.25L685.03 856.28L687.12 849.85L693.88 849.85L695.97 856.28z"/>
<path d="M696.5 867.25L691.03 863.28L693.12 856.85L699.88 856.85L701.97 863.28z"/>
<path d="M702.5 873.25L697.03 869.28L699.12 862.85L705.88 862.85L707.97 869.28z"/>
<path d="M708.5 878.25L703.03 874.28L705.12 867.85L711.88 867.85L713.97 874.28z"/>
<path d="M715.5 879.25L710.03 875.28L712.12 868.85L718.88 868.85L720.97 875.28z"/>
<path d="M721.5 878.25L716.03 874.28L718.12 867.85L724.88 867.85L726.97 874.28z"/>
<path d="M727.5 875.25L722.03 871.28L724.12 864.85L730.88 864.85L732.97 871.28z"/>
<path d="M733.5 874.25L728.03 870.28L730.12 863.85L736.88 863.85L738.97 870.28z"/>
<path d="M740.5 868.25L735.03 864.28L737.12 857.85L743.88 857.85L745.97 864.28z"/>
<path d="M746.5 872.25L741.03 868.28L743.12 861.85L749.88 861.85L751.97 868.28z"/>
<path d="M752.5 873.25L747.03 869.28L749.12 862.85L755.88 862.85L757.97 869.28z"/>
<path d="M758.5 873.25L753.03 869.28L755.12 862.85L761.88 862.85L763.97 869.28z"/>
<path d="M764.5 868.25L759.03 864.28L761.12 857.85L767.88 857.85L769.97 864.28z"/>
<path d="M771.5 865.25L766.03 861.28L768.12 854.85L774.88 854.85L776.97 861.28z"/>
<path d="M777.5 859.25L772.03 855.28L774.12 848.85L780.88 848.85L782.97 855.28z"/>
<path d="M783.5 871.25L778.03 867.28L780.12 860.85L786.88 860.85L788.97 867.28z"/>
<path d="M789.5 871.25L784.03 867.28L786.12 860.85L792.88 860.85L794.97 867.28z"/>
<path d="M796.5 869.25L791.03 865.28L793.12 858.85L799.88 858.85L801.97 865.28z"/>
<path d="M802.5 853.25L797.03 849.28L799.12 842.85L805.88 842.85L807.97 849.28z"/>
<path d="M808.5 867.25L803.03 863.28L805.12 856.85L811.88 856.85L813.97 863.28z"/>
<path d="M814.5 866.25L809.03 862.28L811.12 855.85L817.88 855.85L819.97 862.28z"/>
<path d="M821.5 856.25L816.03 852.28L818.12 845.85L824.88 845.85L826.97 852.28z"/>
<path d="M827.5 858.25L822.03 854.28L824.12 847.85L830.88 847.85L832.97 854.28z"/>
<path d="M833.5 863.25L828.03 859.28L830.12 852.85L836.88 852.85L838.97 859.28z"/>
<path d="M839.5 874.25L834.03 870.28L836.12 863.85L842.88 863.85L844.97 870.28z"/>
<path d="M846.5 877.25L841.03 873.28L843.12 866.85L849.88 866.85L851.97 873.28z"/>
<path d="M852.5 879.25L847.03 875.28L849.12 868.85L855.88 868.85L857.97 875.28z"/>
<path d="M858.5 880.25L853.03 876.28L855.12 869.85L861.88 869.85L863.97 876.28z"/>
<path d="M864.5 888.25L859.03 884.28L861.12 877.85L867.88 877.85L869.97 884.28z"/>
<path d="M870.5 885.25L865.03 881.28L867.12 874.85L873.88 874.85L875.97 881.28z"/>
<path d="M877.5 873.25L872.03 869.28L874.12 862.85L880.88 862.85L882.97 869.28z"/>
<path d="M883.5 871.25L878.03 867.28L880.12 860.85L886.88 860.85L888.97 867.28z"/>
<path d="M889.5 861.25L884.03 857.28L886.12 850.85L892.88 850.85L894.97 857.28z"/>
<path d="M895.5 859.25L890.03 855.28L892.12 848.85L898.88 848.85L900.97 855.28z"/>
<path d="M902.5 855.25L897.03 851.28L899.12 844.85L905.88 844.85L907.97 851.28z"/>
<path d="M908.5 836.25L903.03 832.28L905.12 825.85L911.88 825.85L913.97 832.28z"/>
<path d="M914.5 850.25L909.03 846.28L911.12 839.85L917.88 839.85L919.97 846.28z"/>
<path d="M920.5 819.25L915.03 815.28L917.12 808.85L923.88 808.85L925.97 815.28z"/>
<path d="M927.5 817.25L922.03 813.28L924.12 806.85L930.88 806.85L932.97 813.28z"/>
<path d="M933.5 805.25L928.03 801.28L930.12 794.85L936.88 794.85L938.97 801.28z"/>
<path d="M939.5 801.25L934.03 797.28L936.12 790.85L942.88 790.85L944.97 797.28z"/>
<path d="M945.5 800.25L940.03 796.28L942.12 789.85L948.88 789.85L950.97 796.28z"/>
<path d="M952.5 792.25L947.03 788.28L949.12 781.85L955.88 781.85L957.97 788.28z"/>
<path d="M958.5 794.25L953.03 790.28L955.12 783.85L961.88 783.85L963.97 790.28z"/>
<path d="M964.5 786.25L959.03 782.28L961.12 775.85L967.88 775.85L969.97 782.28z"/>
<path d="M983.5 873.25L978.03 869.28L980.12 862.85L986.88 862.85L988.97 869.28z"/>
<path d="M1001.5 844.25L996.03 840.28L998.12 833.85L1004.88 833.85L1006.97 840.28z"/>
<path d="M1020.5 860.25L1015.03 856.28L1017.12 849.85L1023.88 849.85L1025.97 856.28z"/>
<path d="M1039.5 850.25L1034.03 846.28L1036.12 839.85L1042.88 839.85L1044.97 846.28z"/>
<path d="M1058.5 859.25L1053.03 855.28L1055.12 848.85L1061.88 848.85L1063.97 855.28z"/>
<path d="M1076.5 869.25L1071.03 865.28L1073.12 858.85L1079.88 858.85L1081.97 865.28z"/>
<path d="M1095.5 836.25L1090.03 832.28L1092.12 825.85L1098.88 825.85L1100.97 832.28z"/>
<path d="M1114.5 831.25L1109.03 827.28L1111.12 820.85L1117.88 820.85L1119.97 827.28z"/>
<path d="M1132.5 871.25L1127.03 867.28L1129.12 860.85L1135.88 860.85L1137.97 867.28z"/>
<path d="M1151.5 884.25L1146.03 880.28L1148.12 873.85L1154.88 873.85L1156.97 880.28z"/>
<path d="M1170.5 887.25L1165.03 883.28L1167.12 876.85L1173.88 876.85L1175.97 883.28z"/>
<path d="M1189.5 881.25L1184.03 877.28L1186.12 870.85L1192.88 870.85L1194.97 877.28z"/>
<path d="M1207.5 879.25L1202.03 875.28L1204.12 868.85L1210.88 868.85L1212.97 875.28z"/>
<path d="M1226.5 873.25L1221.03 869.28L1223.12 862.85L1229.88 862.85L1231.97 869.28z"/>
<path d="M1245.5 875.25L1240.03 871.28L1242.12 864.85L1248.88 864.85L1250.97 871.28z"/>
<path d="M1263.5 852.25L1258.03 848.28L1260.12 841.85L1266.88 841.85L1268.97 848.28z"/>
<path d="M1282.5 865.25L1277.03 861.28L1279.12 854.85L1285.88 854.85L1287.97 861.28z"/>
<path d="M1301.5 876.25L1296.03 872.28L1298.12 865.85L1304.88 865.85L1306.97 872.28z"/>
<path d="M1319.5 879.25L1314.03 875.28L1316.12 868.85L1322.88 868.85L1324.97 875.28z"/>
<path d="M1338.5 873.25L1333.03 869.28L1335.12 862.85L1341.88 862.85L1343.97 869.28z"/>
<path d="M1357.5 870.25L1352.03 866.28L1354.12 859.85L1360.88 859.85L1362.97 866.28z"/>
<path d="M1376.5 860.25L1371.03 856.28L1373.12 849.85L1379.88 849.85L1381.97 856.28z"/>
<path d="M1394.5 833.25L1389.03 829.28L1391.12 822.85L1397.88 822.85L1399.97 829.28z"/>
<path d="M1413.5 817.25L1408.03 813.28L1410.12 806.85L1416.88 806.85L1418.97 813.28z"/>
<path d="M1432.5 878.25L1427.03 874.28L1429.12 867.85L1435.88 867.85L1437.97 874.28z"/>
<path d="M1450.5 884.25L1445.03 880.28L1447.12 873.85L1453.88 873.85L1455.97 880.28z"/>
</g>
<g fill="none" stroke="#ffa500" stroke-width="1.1" stroke-linecap="round">
<path d="M1389.3 324.5H1399.7M1394.5 319.3V329.7M1389.3 319.3L1399.7 329.7M1389.3 329.7L1399.7 319.3"/>
<path d="M217.3 803.5H227.7M222.5 798.3V808.7M217.3 798.3L227.7 808.7M217.3 808.7L227.7 798.3"/>
<path d="M223.3 813.5H233.7M228.5 808.3V818.7M223.3 808.3L233.7 818.7M223.3 818.7L233.7 808.3"/>
<path d="M229.3 812.5H239.7M234.5 807.3V817.7M229.3 807.3L239.7 817.7M229.3 817.7L239.7 807.3"/>
<path d="M236.3 815.5H246.7M241.5 810.3V820.7M236.3 810.3L246.7 820.7M236.3 820.7L246.7 810.3"/>
<path d="M242.3 815.5H252.7M247.5 810.3V820.7M242.3 810.3L252.7 820.7M242.3 820.7L252.7 810.3"/>
<path d="M248.3 808.5H258.7M253.5 803.3V813.7M248.3 803.3L258.7 813.7M248.3 813.7L258.7 803.3"/>
<path d="M254.3 808.5H264.7M259.5 803.3V813.7M254.3 803.3L264.7 813.7M254.3 813.7L264.7 803.3"/>
<path d="M261.3 808.5H271.7M266.5 803.3V813.7M261.3 803.3L271.7 813.7M261.3 813.7L271.7 803.3"/>
<path d="M267.3 808.5H277.7M272.5 803.3V813.7M267.3 803.3L277.7 813.7M267.3 813.7L277.7 803.3"/>
<path d="M273.3 814.5H283.7M278.5 809.3V819.7M273.3 809.3L283.7 819.7M273.3 819.7L283.7 809.3"/>
<path d="M279.3 813.5H289.7M284.5 808.3V818.7M279.3 808.3L289.7 818.7M279.3 818.7L289.7 808.3"/>
<path d="M286.3 815.5H296.7M291.5 810.3V820.7M286.3 810.3L296.7 820.7M286.3 820.7L296.7 810.3"/>
<path d="M292.3 820.5H302.7M297.5 815.3V825.7M292.3 815.3L302.7 825.7M292.3 825.7L302.7 815.3"/>
<path d="M298.3 821.5H308.7M303.5 816.3V826.7M298.3 816.3L308.7 826.7M298.3 826.7L308.7 816.3"/>
<path d="M304.3 821.5H314.7M309.5 816.3V826.7M304.3 816.3L314.7 826.7M304.3 826.7L314.7 816.3"/>
<path d="M310.3 821.5H320.7M315.5 816.3V826.7M310.3 816.3L320.7 826.7M310.3 826.7L320.7 816.3"/>
<path d="M317.3 812.5H327.7M322.5 807.3V817.7M317.3 807.3L327.7 817.7M317.3 817.7L327.7 807.3"/>
<path d="M323.3 801.5H333.7M328.5 796.3V806.7M323.3 796.3L333.7 806.7M323.3 806.7L333.7 796.3"/>
<path d="M329.3 783.5H339.7M334.5 778.3V788.7M329.3 778.3L339.7 788.7M329.3 788.7L339.7 778.3"/>
<path d="M335.3 757.5H345.7M340.5 752.3V762.7M335.3 752.3L345.7 762.7M335.3 762.7L345.7 752.3"/>
<path d="M342.3 736.5H352.7M347.5 731.3V741.7M342.3 731.3L352.7 741.7M342.3 741.7L352.7 731.3"/>
<path d="M348.3 730.5H358.7M353.5 725.3V735.7M348.3 725.3L358.7 735.7M348.3 735.7L358.7 725.3"/>
<path d="M354.3 730.5H364.7M359.5 725.3V735.7M354.3 725.3L364.7 735.7M354.3 735.7L364.7 725.3"/>
<path d="M360.3 738.5H370.7M365.5 733.3V743.7M360.3 733.3L370.7 743.7M360.3 743.7L370.7 733.3"/>
<path d="M367.3 743.5H377.7M372.5 738.3V748.7M367.3 738.3L377.7 748.7M367.3 748.7L377.7 738.3"/>
<path d="M373.3 759.5H383.7M378.5 754.3V764.7M373.3 754.3L383.7 764.7M373.3 764.7L383.7 754.3"/>
<path d="M379.3 770.5H389.7M384.5 765.3V775.7M379.3 765.3L389.7 775.7M379.3 775.7L389.7 765.3"/>
<path d="M385.3 786.5H395.7M390.5 781.3V791.7M385.3 781.3L395.7 791.7M385.3 791.7L395.7 781.3"/>
<path d="M392.3 792.5H402.7M397.5 787.3V797.7M392.3 787.3L402.7 797.7M392.3 797.7L402.7 787.3"/>
<path d="M398.3 801.5H408.7M403.5 796.3V806.7M398.3 796.3L408.7 806.7M398.3 806.7L408.7 796.3"/>
<path d="M404.3 811.5H414.7M409.5 806.3V816.7M404.3 806.3L414.7 816.7M404.3 816.7L414.7 806.3"/>
<path d="M410.3 814.5H420.7M415.5 809.3V819.7M410.3 809.3L420.7 819.7M410.3 819.7L420.7 809.3"/>
<path d="M416.3 821.5H426.7M421.5 816.3V826.7M416.3 816.3L426.7 826.7M416.3 826.7L426.7 816.3"/>
<path d="M423.3 828.5H433.7M428.5 823.3V833.7M423.3 823.3L433.7 833.7M423.3 833.7L433.7 823.3"/>
<path d="M429.3 835.5H439.7M434.5 830.3V840.7M429.3 830.3L439.7 840.7M429.3 840.7L439.7 830.3"/>
<path d="M435.3 835.5H445.7M440.5 830.3V840.7M435.3 830.3L445.7 840.7M435.3 840.7L445.7 830.3"/>
<path d="M454.3 824.5H464.7M459.5 819.3V829.7M454.3 819.3L464.7 829.7M454.3 829.7L464.7 819.3"/>
<path d="M473.3 766.5H483.7M478.5 761.3V771.7M473.3 761.3L483.7 771.7M473.3 771.7L483.7 761.3"/>
<path d="M491.3 713.5H501.7M496.5 708.3V718.7M491.3 708.3L501.7 718.7M491.3 718.7L501.7 708.3"/>
<path d="M510.3 741.5H520.7M515.5 736.3V746.7M510.3 736.3L520.7 746.7M510.3 746.7L520.7 736.3"/>
<path d="M529.3 797.5H539.7M534.5 792.3V802.7M529.3 792.3L539.7 802.7M529.3 802.7L539.7 792.3"/>
<path d="M547.3 821.5H557.7M552.5 816.3V826.7M547.3 816.3L557.7 826.7M547.3 826.7L557.7 816.3"/>
<path d="M566.3 836.5H576.7M571.5 831.3V841.7M566.3 831.3L576.7 841.7M566.3 841.7L576.7 831.3"/>
<path d="M585.3 852.5H595.7M590.5 847.3V857.7M585.3 847.3L595.7 857.7M585.3 857.7L595.7 847.3"/>
<path d="M604.3 840.5H614.7M609.5 835.3V845.7M604.3 835.3L614.7 845.7M604.3 845.7L614.7 835.3"/>
<path d="M622.3 816.5H632.7M627.5 811.3V821.7M622.3 811.3L632.7 821.7M622.3 821.7L632.7 811.3"/>
<path d="M641.3 766.5H651.7M646.5 761.3V771.7M641.3 761.3L651.7 771.7M641.3 771.7L651.7 761.3"/>
<path d="M660.3 749.5H670.7M665.5 744.3V754.7M660.3 744.3L670.7 754.7M660.3 754.7L670.7 744.3"/>
<path d="M678.3 788.5H688.7M683.5 783.3V793.7M678.3 783.3L688.7 793.7M678.3 793.7L688.7 783.3"/>
<path d="M697.3 829.5H707.7M702.5 824.3V834.7M697.3 824.3L707.7 834.7M697.3 834.7L707.7 824.3"/>
<path d="M716.3 836.5H726.7M721.5 831.3V841.7M716.3 831.3L726.7 841.7M716.3 841.7L726.7 831.3"/>
<path d="M735.3 835.5H745.7M740.5 830.3V840.7M735.3 830.3L745.7 840.7M735.3 840.7L745.7 830.3"/>
<path d="M753.3 834.5H763.7M758.5 829.3V839.7M753.3 829.3L763.7 839.7M753.3 839.7L763.7 829.3"/>
<path d="M772.3 827.5H782.7M777.5 822.3V832.7M772.3 822.3L782.7 832.7M772.3 832.7L782.7 822.3"/>
<path d="M791.3 791.5H801.7M796.5 786.3V796.7M791.3 786.3L801.7 796.7M791.3 796.7L801.7 786.3"/>
<path d="M809.3 783.5H819.7M814.5 778.3V788.7M809.3 778.3L819.7 788.7M809.3 788.7L819.7 778.3"/>
<path d="M828.3 813.5H838.7M833.5 808.3V818.7M828.3 808.3L838.7 818.7M828.3 818.7L838.7 808.3"/>
<path d="M847.3 823.5H857.7M852.5 818.3V828.7M847.3 818.3L857.7 828.7M847.3 828.7L857.7 818.3"/>
<path d="M865.3 819.5H875.7M870.5 814.3V824.7M865.3 814.3L875.7 824.7M865.3 824.7L875.7 814.3"/>
<path d="M884.3 816.5H894.7M889.5 811.3V821.7M884.3 811.3L894.7 821.7M884.3 821.7L894.7 811.3"/>
<path d="M903.3 817.5H913.7M908.5 812.3V822.7M903.3 812.3L913.7 822.7M903.3 822.7L913.7 812.3"/>
<path d="M922.3 801.5H932.7M927.5 796.3V806.7M922.3 796.3L932.7 806.7M922.3 806.7L932.7 796.3"/>
<path d="M940.3 753.5H950.7M945.5 748.3V758.7M940.3 748.3L950.7 758.7M940.3 758.7L950.7 748.3"/>
<path d="M959.3 747.5H969.7M964.5 742.3V752.7M959.3 742.3L969.7 752.7M959.3 752.7L969.7 742.3"/>
<path d="M978.3 795.5H988.7M983.5 790.3V800.7M978.3 790.3L988.7 800.7M978.3 800.7L988.7 790.3"/>
<path d="M996.3 812.5H1006.7M1001.5 807.3V817.7M996.3 807.3L1006.7 817.7M996.3 817.7L1006.7 807.3"/>
<path d="M1015.3 816.5H1025.7M1020.5 811.3V821.7M1015.3 811.3L1025.7 821.7M1015.3 821.7L1025.7 811.3"/>
<path d="M1034.3 820.5H1044.7M1039.5 815.3V825.7M1034.3 815.3L1044.7 825.7M1034.3 825.7L1044.7 815.3"/>
<path d="M1053.3 819.5H1063.7M1058.5 814.3V824.7M1053.3 814.3L1063.7 824.7M1053.3 824.7L1063.7 814.3"/>
<path d="M1071.3 809.5H1081.7M1076.5 804.3V814.7M1071.3 804.3L1081.7 814.7M1071.3 814.7L1081.7 804.3"/>
<path d="M1090.3 759.5H1100.7M1095.5 754.3V764.7M1090.3 754.3L1100.7 764.7M1090.3 764.7L1100.7 754.3"/>
<path d="M1109.3 764.5H1119.7M1114.5 759.3V769.7M1109.3 759.3L1119.7 769.7M1109.3 769.7L1119.7 759.3"/>
<path d="M1127.3 797.5H1137.7M1132.5 792.3V802.7M1127.3 792.3L1137.7 802.7M1127.3 802.7L1137.7 792.3"/>
<path d="M1146.3 826.5H1156.7M1151.5 821.3V831.7M1146.3 821.3L1156.7 831.7M1146.3 831.7L1156.7 821.3"/>
<path d="M1165.3 827.5H1175.7M1170.5 822.3V832.7M1165.3 822.3L1175.7 832.7M1165.3 832.7L1175.7 822.3"/>
<path d="M1184.3 832.5H1194.7M1189.5 827.3V837.7M1184.3 827.3L1194.7 837.7M1184.3 837.7L1194.7 827.3"/>
<path d="M1202.3 823.5H1212.7M1207.5 818.3V828.7M1202.3 818.3L1212.7 828.7M1202.3 828.7L1212.7 818.3"/>
<path d="M1221.3 815.5H1231.7M1226.5 810.3V820.7M1221.3 810.3L1231.7 820.7M1221.3 820.7L1231.7 810.3"/>
<path d="M1240.3 780.5H1250.7M1245.5 775.3V785.7M1240.3 775.3L1250.7 785.7M1240.3 785.7L1250.7 775.3"/>
<path d="M1258.3 776.5H1268.7M1263.5 771.3V781.7M1258.3 771.3L1268.7 781.7M1258.3 781.7L1268.7 771.3"/>
<path d="M1277.3 786.5H1287.7M1282.5 781.3V791.7M1277.3 781.3L1287.7 791.7M1277.3 791.7L1287.7 781.3"/>
<path d="M1296.3 801.5H1306.7M1301.5 796.3V806.7M1296.3 796.3L1306.7 806.7M1296.3 806.7L1306.7 796.3"/>
<path d="M1314.3 801.5H1324.7M1319.5 796.3V806.7M1314.3 796.3L1324.7 806.7M1314.3 806.7L1324.7 796.3"/>
<path d="M1333.3 807.5H1343.7M1338.5 802.3V812.7M1333.3 802.3L1343.7 812.7M1333.3 812.7L1343.7 802.3"/>
<path d="M1352.3 797.5H1362.7M1357.5 792.3V802.7M1352.3 792.3L1362.7 802.7M1352.3 802.7L1362.7 792.3"/>
<path d="M1371.3 779.5H1381.7M1376.5 774.3V784.7M1371.3 774.3L1381.7 784.7M1371.3 784.7L1381.7 774.3"/>
<path d="M1389.3 759.5H1399.7M1394.5 754.3V764.7M1389.3 754.3L1399.7 764.7M1389.3 764.7L1399.7 754.3"/>
<path d="M1408.3 777.5H1418.7M1413.5 772.3V782.7M1408.3 772.3L1418.7 782.7M1408.3 782.7L1418.7 772.3"/>
<path d="M1445.3 780.5H1455.7M1450.5 775.3V785.7M1445.3 775.3L1455.7 785.7M1445.3 785.7L1455.7 775.3"/>
</g>
<rect x="110.5" y="98.5" width="1347.0" height="796.0" fill="none" stroke="#000" stroke-width="1"/>
</svg>
</body></html>
